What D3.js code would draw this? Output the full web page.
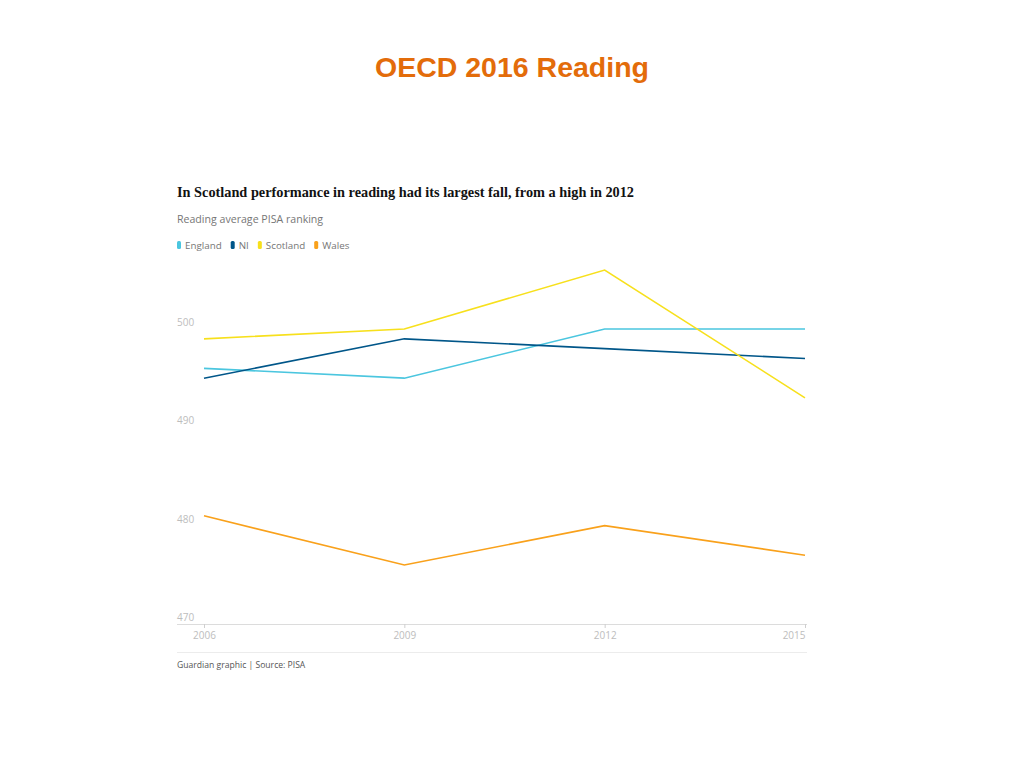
<!DOCTYPE html>
<html><head><meta charset="utf-8">
<script src="https://cdn.jsdelivr.net/npm/d3@7"></script>
<style>body{margin:0;background:#fff}</style>
</head><body>
<svg id="c" width="1024" height="768"></svg>
<script>
const years = [2006, 2009, 2012, 2015];
const england = [496, 495, 500, 500];
const ni = [495, 499, 498, 497];
const scotland = [499, 500, 506, 493];
const wales = [481, 476, 480, 477];
const seriesNames = ["England", "NI", "Scotland", "Wales"];
const seriesColors = ["#4bc6df", "#005689", "#f7e01c", "#f9a11b"];
const yTicks = [470, 480, 490, 500];

const series = [england, ni, scotland, wales];
const svg = d3.select("#c");

svg.append("text").attr("x", 512).attr("y", 77).attr("text-anchor", "middle")
  .attr("font-family", "Liberation Sans, Arial, sans-serif").attr("font-weight", "bold")
  .attr("font-size", 28.5).attr("fill", "#e36c0a").text("OECD 2016 Reading");

svg.append("text").attr("x", 177).attr("y", 197)
  .attr("font-family", "Liberation Serif, serif").attr("font-weight", "bold")
  .attr("font-size", 15).attr("fill", "#121212")
  .attr("textLength", 457).attr("lengthAdjust", "spacingAndGlyphs")
  .text("In Scotland performance in reading had its largest fall, from a high in 2012");

svg.append("text").attr("x", 177).attr("y", 223)
  .attr("font-family", "Open Sans, sans-serif").attr("font-size", 10.6)
  .attr("fill", "#767676").text("Reading average PISA ranking");

// legend
let lx = 177;
const leg = svg.append("g");
seriesNames.forEach((n, i) => {
  leg.append("rect").attr("x", lx).attr("y", 241).attr("width", 4).attr("height", 8)
    .attr("rx", 1.5).attr("fill", seriesColors[i]);
  const t = leg.append("text").attr("x", lx + 8).attr("y", 249)
    .attr("font-family", "Open Sans, sans-serif").attr("font-size", 9.8)
    .attr("fill", "#767676").text(n);
  lx += 8 + t.node().getComputedTextLength() + 9;
});

const x = d3.scalePoint().domain(years).range([204, 805]);
const y = d3.scaleLinear().domain([470, 500]).range([624, 329]);

// y labels
svg.append("g").selectAll("text").data(yTicks).join("text")
  .attr("x", 177).attr("y", d => y(d) - 3)
  .attr("font-family", "Open Sans, sans-serif").attr("font-size", 10)
  .attr("fill", "#bdbdbd").text(d => d);

// x axis
const xa = svg.append("g").attr("transform", "translate(0,624)")
  .call(d3.axisBottom(x).tickSize(4).tickPadding(4));
xa.select(".domain").attr("d", "M177,0.5H807").attr("stroke", "#dcdcdc");
xa.selectAll(".tick line").attr("stroke", "#cfcfcf");
xa.selectAll(".tick text").attr("font-family", "Open Sans, sans-serif").attr("font-size", 10)
  .attr("fill", "#bdbdbd")
  .attr("text-anchor", (d, i) => i === years.length - 1 ? "end" : "middle");

const line = d3.line().x((d, i) => x(years[i])).y(d => y(d));
svg.append("g").selectAll("path").data(series).join("path")
  .attr("d", line).attr("fill", "none")
  .attr("stroke", (d, i) => seriesColors[i]).attr("stroke-width", 1.6);

svg.append("line").attr("x1", 177).attr("x2", 807).attr("y1", 652.5).attr("y2", 652.5)
  .attr("stroke", "#ececec");
svg.append("text").attr("x", 177).attr("y", 668)
  .attr("font-family", "Open Sans, sans-serif").attr("font-size", 8.6)
  .attr("fill", "#555").text("Guardian graphic | Source: PISA");
</script>
</body></html>
